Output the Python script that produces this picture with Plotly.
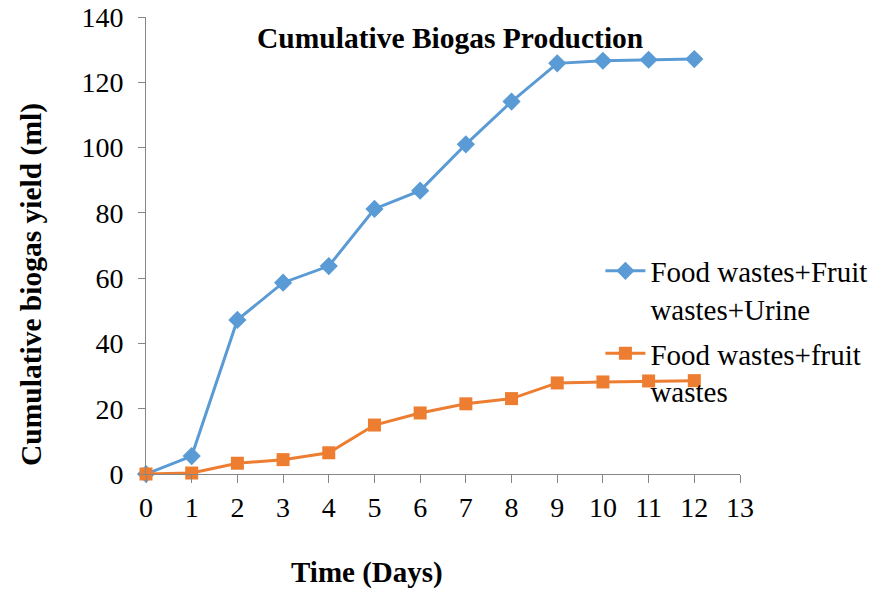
import plotly.graph_objects as go

days = list(range(0, 13))
urine_mix = [0, 5.5, 47.2, 58.6, 63.7, 81.2, 86.8, 101.0, 114.1, 125.8, 126.6, 126.9, 127.1]
fruit_mix = [0, 0.3, 3.3, 4.4, 6.5, 15.0, 18.7, 21.5, 23.1, 27.9, 28.2, 28.5, 28.6]

series_names = ["Food wastes+Fruit<br>wastes+Urine", "Food wastes+fruit<br>wastes"]
x_ticks = list(range(0, 14))
y_ticks = list(range(0, 141, 20))

FONT = "Liberation Serif, Times New Roman, serif"
AXIS_GREY = "#868686"

fig = go.Figure()
fig.add_trace(go.Scatter(
    x=days, y=urine_mix, name=series_names[0], mode="lines+markers",
    legendgroup="a",
    line=dict(color="#5B9BD5", width=3),
    marker=dict(symbol="diamond", size=14, color="#5B9BD5"),
    cliponaxis=False,
))
fig.add_trace(go.Scatter(
    x=days, y=fruit_mix, name=series_names[1], mode="lines+markers",
    legendgroup="b",
    line=dict(color="#ED7D31", width=3),
    marker=dict(symbol="square", size=13, color="#ED7D31"),
    cliponaxis=False,
))

fig.update_layout(
    width=876, height=590,
    margin=dict(l=146, r=136, t=17, b=116, autoexpand=False),
    paper_bgcolor="white", plot_bgcolor="white",
    font=dict(family=FONT, size=28, color="black"),
    showlegend=True,
    legend=dict(x=0.765, y=0.50, xanchor="left", yanchor="top", valign="top",
                bgcolor="rgba(0,0,0,0)", font=dict(family=FONT, size=29),
                itemwidth=40, tracegroupgap=4),
    xaxis=dict(range=[0, 13], tickvals=x_ticks, showgrid=False, zeroline=False,
               showline=True, linecolor=AXIS_GREY, linewidth=1, automargin=False,
               ticks="outside", ticklen=8, tickcolor=AXIS_GREY,
               tickfont=dict(family=FONT, size=28)),
    yaxis=dict(range=[0, 140], tickvals=y_ticks, showgrid=False, zeroline=False,
               showline=True, linecolor=AXIS_GREY, linewidth=1, automargin=False,
               ticks="outside", ticklen=7, tickcolor=AXIS_GREY, ticklabelstandoff=9,
               tickfont=dict(family=FONT, size=28)),
    annotations=[
        dict(text="<b>Cumulative Biogas Production</b>", xref="paper", yref="paper",
             x=(450 - 146) / 594, y=(474 - 38) / 457, xanchor="center", yanchor="middle",
             showarrow=False, font=dict(family=FONT, size=29.5)),
        dict(text="<b>Time (Days)</b>", xref="paper", yref="paper",
             x=(367 - 146) / 594, y=(474 - 572) / 457, xanchor="center", yanchor="middle",
             showarrow=False, font=dict(family=FONT, size=29)),
        dict(text="<b>Cumulative biogas yield (ml)</b>", xref="paper", yref="paper",
             x=(31 - 146) / 594, y=(474 - 285) / 457, xanchor="center", yanchor="middle",
             textangle=-90, showarrow=False, font=dict(family=FONT, size=29.5)),
    ],
)

fig.write_html("out.html")
